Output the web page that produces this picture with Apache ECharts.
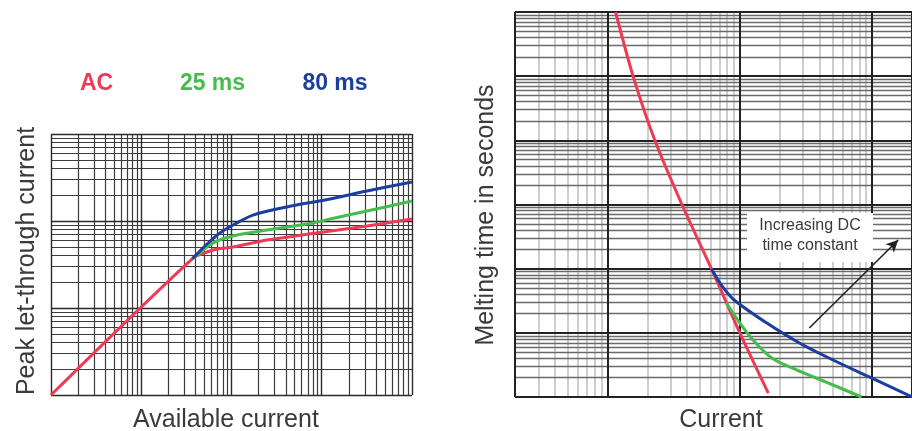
<!DOCTYPE html>
<html><head><meta charset="utf-8">
<script src="https://cdn.jsdelivr.net/npm/echarts@6/dist/echarts.min.js"></script>
<style>html,body{margin:0;padding:0;background:#fff}#c{width:912px;height:431px}</style>
</head><body><div id="c"></div>
<script>
// ---------- data ----------
const seriesNames = ['AC', '25 ms', '80 ms'];
const seriesColors = ['#EF3A55', '#45BC4E', '#1C3E9E'];

// Left chart: peak let-through current vs available current (log-log, no tick labels)
const leftXRange = [1, 10000];
const leftYRange = [1, 1000];
const letAC_x  = [1, 37, 53.5, 69.1, 104, 247, 800, 3170, 10000];
const letAC_y  = [1, 37, 44.0, 47.7, 50.3, 60.5, 71.8, 87.6, 105.5];
const let25_x  = [37, 44.8, 53.5, 69.1, 104, 247, 800, 1234, 3170, 10000];
const let25_y  = [37, 42.9, 50.3, 58.9, 67.2, 78.8, 94.9, 105.5, 130, 170];
const let80_x  = [37, 44.8, 53.5, 74.6, 104, 173, 412, 1234, 3170, 10000];
const let80_y  = [37, 45.2, 54.4, 72.8, 89.9, 117, 145, 179, 221, 281];

// Right chart: melting time vs current (log-log, no tick labels)
const rightXRange = [2, 2000];
const rightYRange = [0.01, 10000];
const meltAC_x = [11.5, 15.6, 22.8, 36.5, 61, 100, 164];
const meltAC_y = [10000, 1000, 100, 10, 1, 0.1, 0.0115];
const melt25_x = [79.1, 98.8, 125.8, 174.2, 268, 448.6, 832];
const melt25_y = [0.2916, 0.1475, 0.0773, 0.0405, 0.0264, 0.0171, 0.0100];
const melt80_x = [61, 72.6, 90.7, 160, 282, 506, 988, 2000];
const melt80_y = [1, 0.556, 0.325, 0.142, 0.0694, 0.0377, 0.0198, 0.0100];

const arrowFrom = [335, 0.119];
const arrowTo = [1573, 2.80];

const leftTitles = ['Available current', 'Peak let-through current'];
const rightTitles = ['Current', 'Melting time in seconds'];
const boxText = ['Increasing DC', 'time constant'];
const minorSteps = [2, 3, 4, 5, 6, 7, 8, 9];

// ---------- helpers ----------
function logLines(min, max) {
  const major = [], minor = [];
  const e0 = Math.floor(Math.log10(min) + 1e-9), e1 = Math.ceil(Math.log10(max) - 1e-9);
  for (let e = e0; e <= e1; e++) {
    const d = Math.pow(10, e);
    if (d >= min * 0.999 && d <= max * 1.001) major.push(d);
    minorSteps.forEach(m => { const v = m * d; if (v > min * 1.001 && v < max * 0.999) minor.push(v); });
  }
  if (major.indexOf(min) < 0) major.push(min);
  if (major.indexOf(max) < 0) major.push(max);
  return { major, minor };
}
function zip(xs, ys) { return xs.map((x, i) => [x, ys[i]]); }

function gridSeries(idx, xr, yr, st) {
  const lx = logLines(xr[0], xr[1]), ly = logLines(yr[0], yr[1]);
  const d = [];
  lx.minor.forEach(v => d.push({ xAxis: v, lineStyle: st.vMinor }));
  ly.minor.forEach(v => d.push({ yAxis: v, lineStyle: st.hMinor }));
  lx.major.forEach(v => d.push({ xAxis: v, lineStyle: st.vMajor }));
  ly.major.forEach(v => d.push({ yAxis: v, lineStyle: st.hMajor }));
  return {
    type: 'line', xAxisIndex: idx, yAxisIndex: idx, data: [], silent: true, z: 1,
    markLine: {
      silent: true, symbol: ['none', 'none'], label: { show: false }, z: 1,
      emphasis: { disabled: true }, animation: false, precision: 6, data: d
    }
  };
}
function curve(idx, k, xs, ys, sm) {
  return {
    name: seriesNames[k], type: 'line', xAxisIndex: idx, yAxisIndex: idx,
    data: zip(xs, ys), showSymbol: false, symbol: 'none', smooth: sm, z: 10,
    lineStyle: { color: seriesColors[k], width: 3 }, itemStyle: { color: seriesColors[k] },
    emphasis: { disabled: true }
  };
}
function axis(idx, r) {
  return {
    type: 'log', logBase: 10, gridIndex: idx, min: r[0], max: r[1],
    axisLine: { show: false }, axisTick: { show: false }, axisLabel: { show: false },
    splitLine: { show: false }, minorTick: { show: false }
  };
}

const leftStyle = {
  vMinor: { color: '#3c3c3c', width: 1.2, type: 'solid' },
  hMinor: { color: '#3c3c3c', width: 1.2, type: 'solid' },
  vMajor: { color: '#2a2a2a', width: 1.4, type: 'solid' },
  hMajor: { color: '#2a2a2a', width: 1.4, type: 'solid' }
};
const rightStyle = {
  vMinor: { color: '#c2c2c2', width: 1.6, type: 'solid' },
  hMinor: { color: '#6a6a6a', width: 1.3, type: 'solid' },
  vMajor: { color: '#222', width: 2, type: 'solid' },
  hMajor: { color: '#222', width: 2, type: 'solid' }
};

const FONT = '"Liberation Sans", Arial, sans-serif';
function txt(x, y, text, fill, font, rot) {
  const o = { type: 'text', x: x, y: y, z: 50, style: { text: text, fill: fill, font: font, align: 'center', verticalAlign: 'middle' } };
  if (rot) o.rotation = rot;
  return o;
}

const chart = echarts.init(document.getElementById('c'), null, { renderer: 'canvas' });
chart.setOption({
  animation: false,
  backgroundColor: '#fff',
  grid: [
    { left: 51, top: 134, width: 361, height: 261 },
    { left: 515, top: 12, width: 402, height: 385 }
  ],
  xAxis: [axis(0, leftXRange), axis(1, rightXRange)],
  yAxis: [axis(0, leftYRange), axis(1, rightYRange)],
  series: [
    gridSeries(0, leftXRange, leftYRange, leftStyle),
    gridSeries(1, rightXRange, rightYRange, rightStyle),
    curve(0, 0, letAC_x, letAC_y, 0.3),
    curve(0, 1, let25_x, let25_y, 0.3),
    curve(0, 2, let80_x, let80_y, 0.3),
    curve(1, 0, meltAC_x, meltAC_y, 0.25),
    curve(1, 1, melt25_x, melt25_y, 0.3),
    curve(1, 2, melt80_x, melt80_y, 0.3),
    {
      type: 'line', xAxisIndex: 1, yAxisIndex: 1, data: [], silent: true, z: 20,
      markLine: {
        silent: true, z: 20, symbol: ['none', 'arrow'], symbolSize: [9, 12],
        label: { show: false }, emphasis: { disabled: true }, animation: false,
        lineStyle: { color: '#222', width: 1.6, type: 'solid' },
        data: [[{ coord: arrowFrom }, { coord: arrowTo }]]
      }
    }
  ],
  graphic: [
    txt(96.5, 84, seriesNames[0], seriesColors[0], 'bold 23px ' + FONT),
    txt(212.5, 84, seriesNames[1], seriesColors[1], 'bold 23px ' + FONT),
    txt(335, 84, seriesNames[2], seriesColors[2], 'bold 23px ' + FONT),
    txt(226, 420, leftTitles[0], '#3a3a3a', '25px ' + FONT),
    txt(27, 261, leftTitles[1], '#3a3a3a', '25px ' + FONT, Math.PI / 2),
    txt(721, 420, rightTitles[0], '#3a3a3a', '25px ' + FONT),
    txt(486, 215, rightTitles[1], '#3a3a3a', '25px ' + FONT, Math.PI / 2),
    { type: 'rect', z: 40, shape: { x: 747, y: 213, width: 126, height: 49 }, style: { fill: '#fff' } },
    txt(810, 226, boxText[0], '#3a3a3a', '16px ' + FONT),
    txt(810, 246, boxText[1], '#3a3a3a', '16px ' + FONT)
  ]
});
</script>
</body></html>
